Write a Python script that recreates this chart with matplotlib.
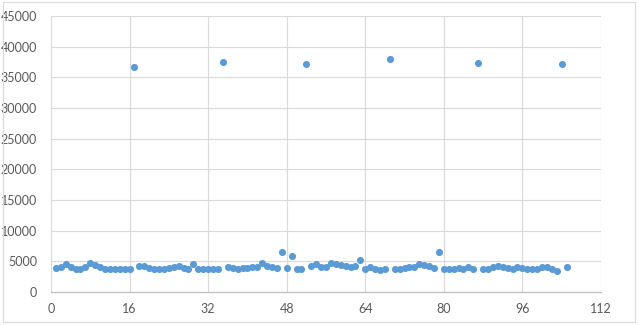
import matplotlib.pyplot as plt
import numpy as np
from matplotlib.patches import Rectangle

# low readings, grouped between the spikes
seg1 = [3900, 4000, 4500, 4000, 3800, 3800, 4000, 4700, 4400, 4100,
        3700, 3700, 3700, 3700, 3700, 3700]
seg2 = [4200, 4200, 3900, 3700, 3700, 3700, 3900, 4000, 4200, 3900,
        3800, 4500, 3800, 3700, 3700, 3700, 3700]
seg3 = [4000, 3900, 3800, 3900, 3900, 4100, 4100, 4700, 4200, 4100,
        3900, 6500, 3900, 5900, 3800, 3800]
seg4 = [4300, 4500, 4000, 4000, 4700, 4600, 4400, 4200, 4100, 4200,
        5300, 3800, 4000, 3700, 3600, 3800]
seg5 = [3800, 3800, 3900, 4000, 4000, 4500, 4400, 4300, 3900, 6500,
        3800, 3700, 3800, 3900, 3800, 4000, 3800]
seg6 = [3800, 3700, 4100, 4200, 4000, 3900, 3800, 4000, 3900, 3800,
        3700, 3700, 4000, 4100, 3700, 3400]
spikes = [36700, 37500, 37200, 38000, 37300, 37200]
last = [4100]

y = (seg1 + [spikes[0]] + seg2 + [spikes[1]] + seg3 + [spikes[2]] +
     seg4 + [spikes[3]] + seg5 + [spikes[4]] + seg6 + [spikes[5]] + last)
x = np.arange(1, len(y) + 1)

xticks = [0, 16, 32, 48, 64, 80, 96, 112]
yticks = [0, 5000, 10000, 15000, 20000, 25000, 30000, 35000, 40000, 45000]

plt.rcParams['font.family'] = ['Lato', 'DejaVu Sans']

fig = plt.figure(figsize=(6.39, 3.25), dpi=100)
ax = fig.add_axes([0.0798, 0.1015, 0.8607, 0.8493])

ax.scatter(x, y, s=26, color='#5B9BD5', zorder=3, linewidths=0)

ax.set_xlim(0, 112)
ax.set_ylim(0, 45000)
ax.set_xticks(xticks)
ax.set_yticks(yticks)
ax.grid(True, color='#D9D9D9', linewidth=0.8)
ax.set_axisbelow(True)
for side in ['top', 'right', 'left']:
    ax.spines[side].set_visible(False)
ax.spines['bottom'].set_color('#BFBFBF')
ax.spines['bottom'].set_linewidth(0.9)
ax.tick_params(length=0, labelsize=9, labelcolor='#595959')
ax.tick_params(axis='y', pad=10)
ax.tick_params(axis='x', pad=8)

fig.patches.append(Rectangle((0.004, 0.008), 0.989, 0.985, transform=fig.transFigure,
                             fill=False, edgecolor='#D9D9D9', linewidth=0.8))

fig.savefig('out.png', dpi=100)
